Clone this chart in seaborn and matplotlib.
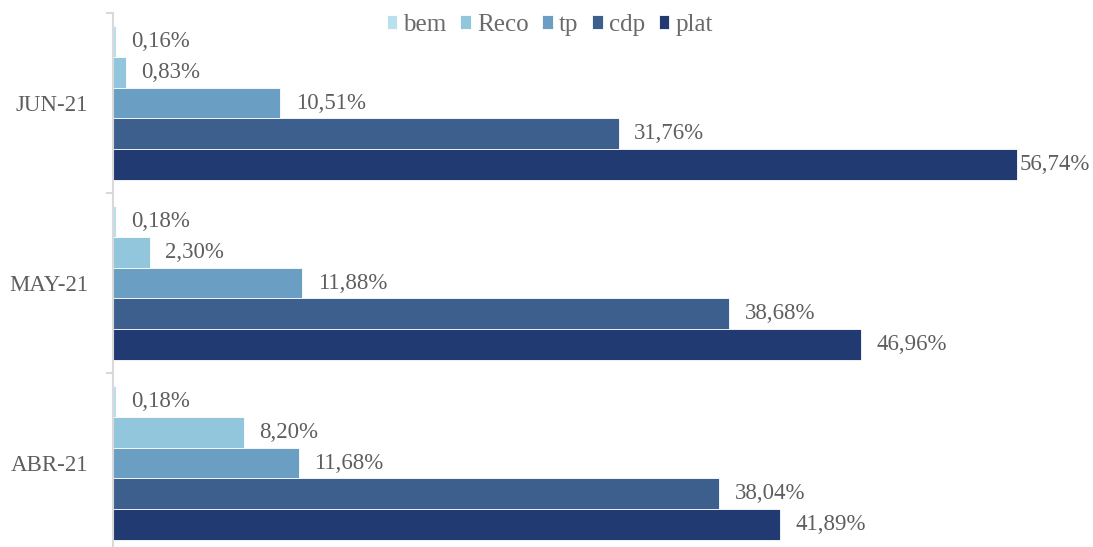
import numpy as np
import pandas as pd
import matplotlib
matplotlib.use("Agg")
import matplotlib.pyplot as plt
import seaborn as sns
from matplotlib.ticker import FixedLocator

categories = ["JUN-21", "MAY-21", "ABR-21"]
series = ["bem", "Reco", "tp", "cdp", "plat"]
bem = [0.16, 0.18, 0.18]
reco = [0.83, 2.30, 8.20]
tp = [10.51, 11.88, 11.68]
cdp = [31.76, 38.68, 38.04]
plat = [56.74, 46.96, 41.89]
colors = ["#b8e0ee", "#92c6dd", "#6a9ec3", "#3c5f8e", "#213a72"]

sns.set_theme(style="white")
plt.rcParams["font.family"] = ["Liberation Serif", "DejaVu Serif"]

df = pd.DataFrame({
    "mes": categories * 5,
    "serie": np.repeat(series, 3),
    "valor": bem + reco + tp + cdp + plat,
})

fig = plt.figure(figsize=(10.93, 5.47), dpi=100)
ax = fig.add_axes([113 / 1093, -6 / 547, 956 / 1093, 540 / 547])
sns.barplot(data=df, y="mes", x="valor", hue="serie", order=categories,
            hue_order=series, palette=colors, orient="h", width=0.855,
            saturation=1, errorbar=None, edgecolor="white", linewidth=0.6,
            ax=ax)

text_color = "#5e5e5e"
all_labels = []
for cont in ax.containers:
    labs = [f"{b.get_width():.2f}".replace(".", ",") + "%" for b in cont]
    all_labels += ax.bar_label(cont, labels=labs, padding=11, color=text_color,
                               fontsize=16.5)

ax.set_xlim(0, 60)
ax.set_ylim(2.5, -0.5)
ax.set_xlabel("")
ax.set_ylabel("")
ax.set_xticks([])
for s in ["top", "right", "bottom"]:
    ax.spines[s].set_visible(False)
ax.spines["left"].set_color("#d9d9d9")
ax.spines["left"].set_linewidth(1.5)
ax.tick_params(axis="y", which="major", length=0, pad=18, labelsize=16.5,
               labelcolor=text_color)
ax.yaxis.set_minor_locator(FixedLocator([-0.5, 0.5, 1.5, 2.5]))
ax.tick_params(axis="y", which="minor", length=5, width=1.5, color="#d9d9d9",
               left=True)

handles, labels = ax.get_legend_handles_labels()
ax.legend(handles, labels, loc="center", bbox_to_anchor=(0.503, 0.955),
          bbox_transform=fig.transFigure, ncol=5, frameon=False,
          handlelength=0.42, handleheight=0.5, handletextpad=0.25,
          columnspacing=0.55, fontsize=18, labelcolor="#6a6a6a")

# keep labels inside the figure (like the reference shifts the longest one)
fig.canvas.draw()
renderer = fig.canvas.get_renderer()
fig_w = fig.bbox.width
for t in all_labels:
    bb = t.get_window_extent(renderer)
    over = bb.x1 - (fig_w - 3)
    if over > 0:
        dx, dy = t.xyann
        t.xyann = (dx - over * 72 / fig.dpi, dy)

fig.savefig("out.png", dpi=100)
